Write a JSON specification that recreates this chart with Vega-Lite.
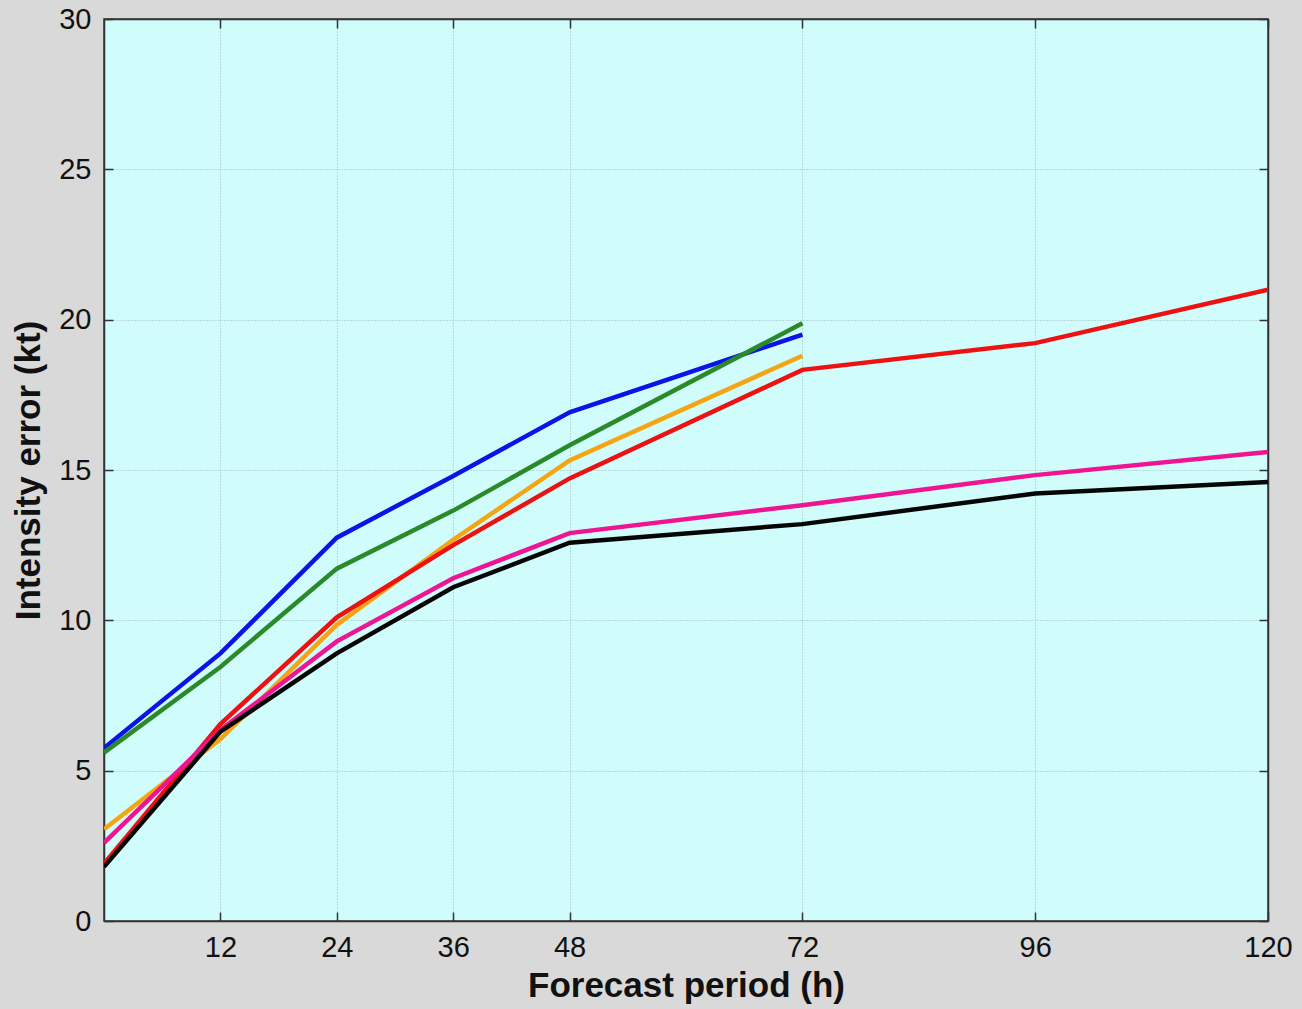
{
  "$schema": "https://vega.github.io/schema/vega-lite/v6.json",
  "autosize": {"type": "none"},
  "width": 1164,
  "height": 902,
  "padding": {"left": 104, "top": 19, "right": 34, "bottom": 88},
  "background": "#d9d9d9",
  "config": {
    "view": {"fill": "#d0fcfc", "stroke": "#333333", "strokeWidth": 1.5},
    "font": "Liberation Sans",
    "axis": {
      "labelFont": "Liberation Sans",
      "labelFontSize": 29,
      "labelColor": "#111111",
      "titleFont": "Liberation Sans",
      "titleFontSize": 35,
      "titleFontWeight": "bold",
      "titleColor": "#111111",
      "domainColor": "#333333",
      "domainWidth": 1.5,
      "tickColor": "#333333",
      "tickWidth": 1.5,
      "gridColor": "#9fb8b8",
      "gridDash": [1, 2],
      "gridWidth": 1
    }
  },
  "data": {
    "values": [
      {"series": "s1", "h": 0, "err": 5.75},
      {"series": "s1", "h": 12, "err": 8.9},
      {"series": "s1", "h": 24, "err": 12.75},
      {"series": "s1", "h": 36, "err": 14.8},
      {"series": "s1", "h": 48, "err": 16.92},
      {"series": "s1", "h": 72, "err": 19.5},
      {"series": "s2", "h": 0, "err": 5.6},
      {"series": "s2", "h": 12, "err": 8.45},
      {"series": "s2", "h": 24, "err": 11.72},
      {"series": "s2", "h": 36, "err": 13.65},
      {"series": "s2", "h": 48, "err": 15.82},
      {"series": "s2", "h": 72, "err": 19.88},
      {"series": "s3", "h": 0, "err": 3.05},
      {"series": "s3", "h": 12, "err": 6.05},
      {"series": "s3", "h": 24, "err": 9.85},
      {"series": "s3", "h": 36, "err": 12.68},
      {"series": "s3", "h": 48, "err": 15.32},
      {"series": "s3", "h": 72, "err": 18.8},
      {"series": "s4", "h": 0, "err": 1.9},
      {"series": "s4", "h": 12, "err": 6.55},
      {"series": "s4", "h": 24, "err": 10.1},
      {"series": "s4", "h": 36, "err": 12.5},
      {"series": "s4", "h": 48, "err": 14.72},
      {"series": "s4", "h": 72, "err": 18.33},
      {"series": "s4", "h": 96, "err": 19.22},
      {"series": "s4", "h": 120, "err": 21.0},
      {"series": "s5", "h": 0, "err": 2.6},
      {"series": "s5", "h": 12, "err": 6.35},
      {"series": "s5", "h": 24, "err": 9.3},
      {"series": "s5", "h": 36, "err": 11.4},
      {"series": "s5", "h": 48, "err": 12.9},
      {"series": "s5", "h": 72, "err": 13.83},
      {"series": "s5", "h": 96, "err": 14.83},
      {"series": "s5", "h": 120, "err": 15.6},
      {"series": "s6", "h": 0, "err": 1.8},
      {"series": "s6", "h": 12, "err": 6.3},
      {"series": "s6", "h": 24, "err": 8.9},
      {"series": "s6", "h": 36, "err": 11.1},
      {"series": "s6", "h": 48, "err": 12.58},
      {"series": "s6", "h": 72, "err": 13.2},
      {"series": "s6", "h": 96, "err": 14.22},
      {"series": "s6", "h": 120, "err": 14.6}
    ]
  },
  "layer": [
    {
      "mark": {"type": "line", "strokeWidth": 4.5, "clip": true},
      "encoding": {
        "x": {
          "field": "h", "type": "quantitative",
          "scale": {"domain": [0, 120], "nice": false, "zero": false},
          "axis": {
            "title": "Forecast period (h)",
            "values": [12, 24, 36, 48, 72, 96, 120],
            "tickSize": -9,
            "labelPadding": 21,
            "titlePadding": 6,
            "grid": true,
            "labelFlush": false
          }
        },
        "y": {
          "field": "err", "type": "quantitative",
          "scale": {"domain": [0, 30], "nice": false},
          "axis": {
            "title": "Intensity error (kt)",
            "values": [0, 5, 10, 15, 20, 25, 30],
            "tickSize": -9,
            "labelPadding": 22,
            "titlePadding": 12,
            "grid": true,
            "labelFlush": false
          }
        },
        "color": {
          "field": "series", "type": "nominal",
          "scale": {
            "domain": ["s1", "s2", "s3", "s4", "s5", "s6"],
            "range": ["#0a14e6", "#2a8a2a", "#f5a512", "#ee1111", "#ee1493", "#050505"]
          },
          "legend": null
        }
      }
    },
    {
      "mark": {"type": "line", "opacity": 0},
      "encoding": {
        "x": {
          "field": "h", "type": "quantitative",
          "axis": {
            "orient": "top", "title": null, "labels": false, "grid": false,
            "values": [12, 24, 36, 48, 72, 96, 120], "tickSize": -9
          }
        },
        "y": {
          "field": "err", "type": "quantitative",
          "axis": {
            "orient": "right", "title": null, "labels": false, "grid": false,
            "values": [0, 5, 10, 15, 20, 25, 30], "tickSize": -9
          }
        },
        "detail": {"field": "series"}
      }
    }
  ],
  "resolve": {"axis": {"x": "independent", "y": "independent"}}
}
